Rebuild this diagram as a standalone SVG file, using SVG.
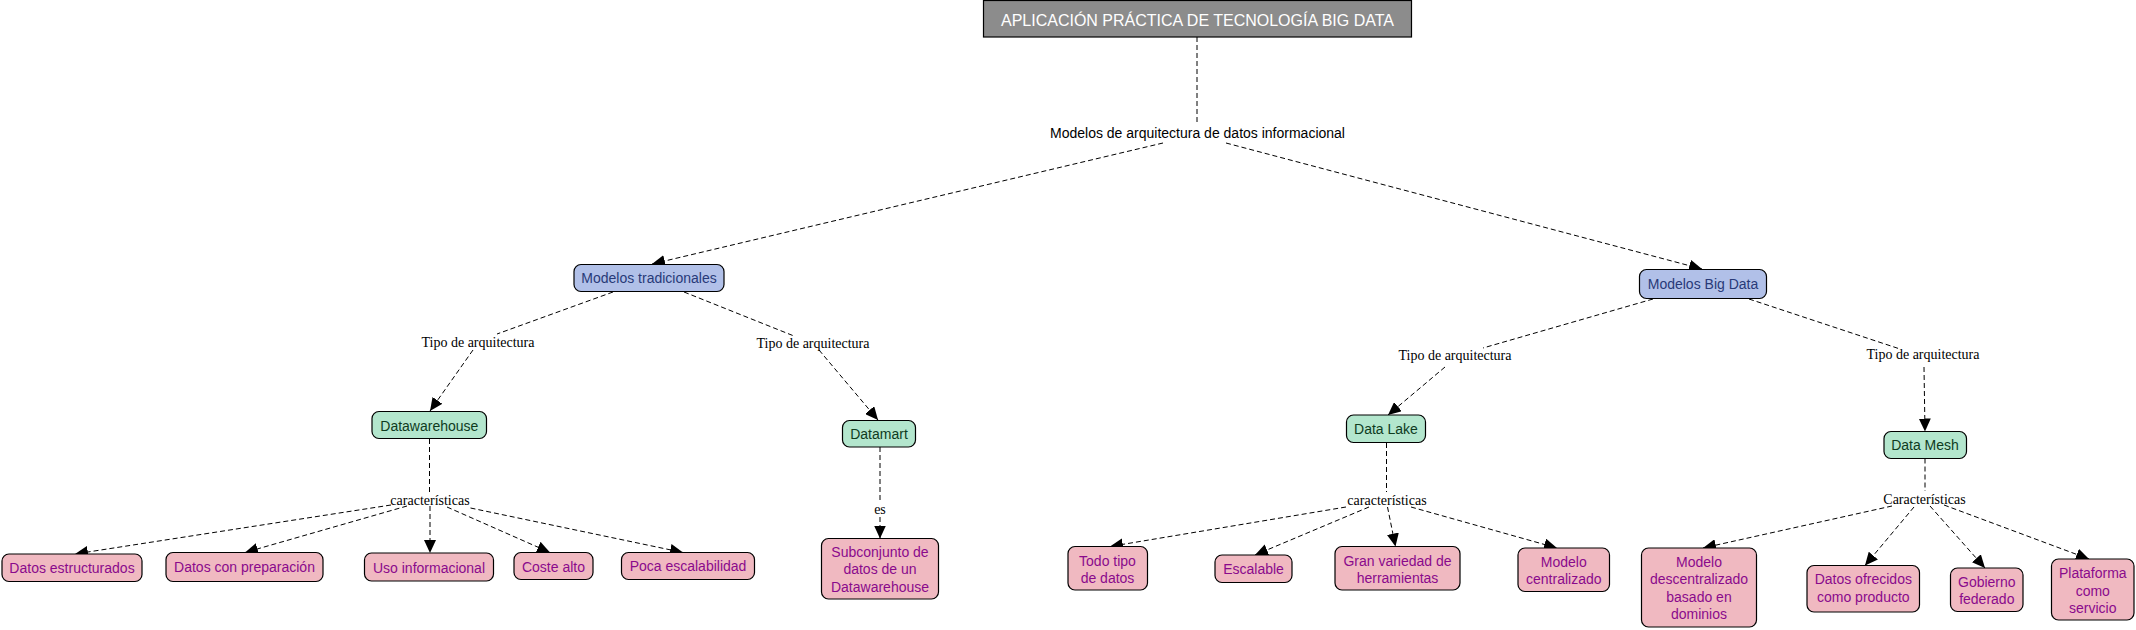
<svg xmlns="http://www.w3.org/2000/svg" width="2136" height="630" viewBox="0 0 2136 630">
<style>
.bg{fill:#ffffff}
.n{stroke:#000;stroke-width:1.2}
.title{fill:#8c8c8c}
.blue{fill:#b1c0e8}
.green{fill:#b3e6cd}
.pink{fill:#f0b9c1}
.t{font-family:"Liberation Sans",Arial,sans-serif;font-size:14px;text-anchor:middle}
.tt{font-family:"Liberation Sans",Arial,sans-serif;font-size:16px;text-anchor:middle;fill:#ffffff}
.tb{fill:#283a78}
.tg{fill:#0e3b1e}
.tp{fill:#8a0a8c}
.lbl{font-family:"Liberation Sans",Arial,sans-serif;font-size:14px;text-anchor:middle;fill:#000}
.sl{font-family:"Liberation Serif","Times New Roman",serif;font-size:14px;text-anchor:middle;fill:#000}
.c line{stroke:#000;stroke-width:1;stroke-dasharray:5,3;fill:none}
</style>
<defs>
<marker id="ah" markerUnits="userSpaceOnUse" markerWidth="14" markerHeight="12" refX="13" refY="6" orient="auto">
<path d="M0,0 L13,6 L0,12 z" fill="#000"/>
</marker>
</defs>
<rect class="bg" x="0" y="0" width="2136" height="630"/>
<g id="connectors" class="c">
<line x1="1197" y1="37" x2="1197" y2="125"/>
<line x1="1163" y1="143" x2="652" y2="264" marker-end="url(#ah)"/>
<line x1="1226" y1="143" x2="1702" y2="269" marker-end="url(#ah)"/>
<line x1="613" y1="292" x2="497" y2="334"/>
<line x1="473" y1="350" x2="430" y2="411" marker-end="url(#ah)"/>
<line x1="684" y1="292" x2="794" y2="336"/>
<line x1="819" y1="350" x2="878" y2="420" marker-end="url(#ah)"/>
<line x1="429.5" y1="439" x2="429.5" y2="493"/>
<line x1="391" y1="505" x2="75" y2="554" marker-end="url(#ah)"/>
<line x1="407" y1="506" x2="245" y2="552.5" marker-end="url(#ah)"/>
<line x1="430" y1="506" x2="430" y2="553" marker-end="url(#ah)"/>
<line x1="447" y1="507" x2="550" y2="552.5" marker-end="url(#ah)"/>
<line x1="470.5" y1="508" x2="683" y2="552.5" marker-end="url(#ah)"/>
<line x1="880" y1="447" x2="880" y2="502"/>
<line x1="880" y1="517" x2="880" y2="538.5" marker-end="url(#ah)"/>
<line x1="1653" y1="299" x2="1483" y2="348"/>
<line x1="1445" y1="367" x2="1388" y2="415" marker-end="url(#ah)"/>
<line x1="1749" y1="299" x2="1900" y2="349"/>
<line x1="1924" y1="367" x2="1925" y2="431.5" marker-end="url(#ah)"/>
<line x1="1386.5" y1="443" x2="1386.5" y2="492"/>
<line x1="1346" y1="507" x2="1110" y2="546.5" marker-end="url(#ah)"/>
<line x1="1369" y1="507" x2="1255" y2="555" marker-end="url(#ah)"/>
<line x1="1387.5" y1="507" x2="1395.5" y2="546.5" marker-end="url(#ah)"/>
<line x1="1411" y1="507" x2="1557" y2="548" marker-end="url(#ah)"/>
<line x1="1925" y1="458.5" x2="1925" y2="491"/>
<line x1="1892" y1="506" x2="1703" y2="548" marker-end="url(#ah)"/>
<line x1="1914" y1="507" x2="1865" y2="565.5" marker-end="url(#ah)"/>
<line x1="1930" y1="506" x2="1985" y2="568" marker-end="url(#ah)"/>
<line x1="1944" y1="505" x2="2089" y2="559" marker-end="url(#ah)"/>
</g>
<g id="labels">
<text class="lbl" x="1197.5" y="138">Modelos de arquitectura de datos informacional</text>
<text class="sl" x="478" y="347">Tipo de arquitectura</text>
<text class="sl" x="813" y="347.5">Tipo de arquitectura</text>
<text class="sl" x="1455" y="360">Tipo de arquitectura</text>
<text class="sl" x="1923" y="359">Tipo de arquitectura</text>
<text class="sl" x="430" y="504.5">características</text>
<text class="sl" x="880" y="514">es</text>
<text class="sl" x="1387" y="504.5">características</text>
<text class="sl" x="1924.5" y="503.5">Características</text>
</g>
<g id="n-title"><rect class="n title" x="983.5" y="0.5" width="428" height="36.5"/><text class="tt" x="1197.5" y="26">APLICACIÓN PRÁCTICA DE TECNOLOGÍA BIG DATA</text></g>
<g id="n-trad"><rect class="n blue" x="574" y="264.5" width="150" height="27" rx="7"/><text class="t tb" x="649" y="283.3">Modelos tradicionales</text></g>
<g id="n-bigdata"><rect class="n blue" x="1639.5" y="269.5" width="127" height="29" rx="7"/><text class="t tb" x="1703" y="288.5">Modelos Big Data</text></g>
<g id="n-dwh"><rect class="n green" x="372" y="411.5" width="114.5" height="27" rx="7"/><text class="t tg" x="429.3" y="430.7">Datawarehouse</text></g>
<g id="n-datamart"><rect class="n green" x="842.5" y="420.5" width="73" height="26.5" rx="7"/><text class="t tg" x="879" y="439.3">Datamart</text></g>
<g id="n-datalake"><rect class="n green" x="1346.5" y="415" width="79" height="27.5" rx="7"/><text class="t tg" x="1386" y="434.3">Data Lake</text></g>
<g id="n-datamesh"><rect class="n green" x="1884" y="431.5" width="82.5" height="27" rx="7"/><text class="t tg" x="1925" y="450">Data Mesh</text></g>
<g id="n-estructurados"><rect class="n pink" x="2" y="554" width="140" height="27.5" rx="7"/><text class="t tp" x="72" y="573.3">Datos estructurados</text></g>
<g id="n-preparacion"><rect class="n pink" x="166" y="552.5" width="157" height="29" rx="7"/><text class="t tp" x="244.5" y="571.7">Datos con preparación</text></g>
<g id="n-uso"><rect class="n pink" x="364.5" y="553" width="129" height="28" rx="7"/><text class="t tp" x="429" y="572.7">Uso informacional</text></g>
<g id="n-coste"><rect class="n pink" x="514" y="552.5" width="79" height="27" rx="7"/><text class="t tp" x="553.5" y="571.7">Coste alto</text></g>
<g id="n-poca"><rect class="n pink" x="621.5" y="552.5" width="133" height="27" rx="7"/><text class="t tp" x="688" y="571">Poca escalabilidad</text></g>
<g id="n-subconjunto"><rect class="n pink" x="821.5" y="538.5" width="117" height="60.5" rx="7"/><text class="t tp" x="880" y="556.7">Subconjunto de</text><text class="t tp" x="880" y="574.3">datos de un</text><text class="t tp" x="880" y="591.7">Datawarehouse</text></g>
<g id="n-todotipo"><rect class="n pink" x="1068" y="546.5" width="79.5" height="43.5" rx="7"/><text class="t tp" x="1107.5" y="566">Todo tipo</text><text class="t tp" x="1107.5" y="583.3">de datos</text></g>
<g id="n-escalable"><rect class="n pink" x="1215" y="555" width="77" height="27.5" rx="7"/><text class="t tp" x="1253.5" y="574.3">Escalable</text></g>
<g id="n-variedad"><rect class="n pink" x="1335" y="546.5" width="125" height="43.5" rx="7"/><text class="t tp" x="1397.5" y="566">Gran variedad de</text><text class="t tp" x="1397.5" y="583.3">herramientas</text></g>
<g id="n-centralizado"><rect class="n pink" x="1518" y="548" width="91.5" height="43.5" rx="7"/><text class="t tp" x="1563.8" y="566.7">Modelo</text><text class="t tp" x="1563.8" y="584">centralizado</text></g>
<g id="n-descentralizado"><rect class="n pink" x="1641.5" y="548" width="115" height="79" rx="7"/><text class="t tp" x="1699" y="566.7">Modelo</text><text class="t tp" x="1699" y="584.3">descentralizado</text><text class="t tp" x="1699" y="601.7">basado en</text><text class="t tp" x="1699" y="619">dominios</text></g>
<g id="n-ofrecidos"><rect class="n pink" x="1807" y="565.5" width="112.5" height="46.5" rx="7"/><text class="t tp" x="1863.3" y="584.3">Datos ofrecidos</text><text class="t tp" x="1863.3" y="601.7">como producto</text></g>
<g id="n-gobierno"><rect class="n pink" x="1950.5" y="568" width="72.5" height="43.5" rx="7"/><text class="t tp" x="1986.8" y="586.7">Gobierno</text><text class="t tp" x="1986.8" y="604">federado</text></g>
<g id="n-plataforma"><rect class="n pink" x="2051.5" y="559" width="82.5" height="61" rx="7"/><text class="t tp" x="2092.8" y="577.7">Plataforma</text><text class="t tp" x="2092.8" y="595.7">como</text><text class="t tp" x="2092.8" y="613.3">servicio</text></g>
</svg>
